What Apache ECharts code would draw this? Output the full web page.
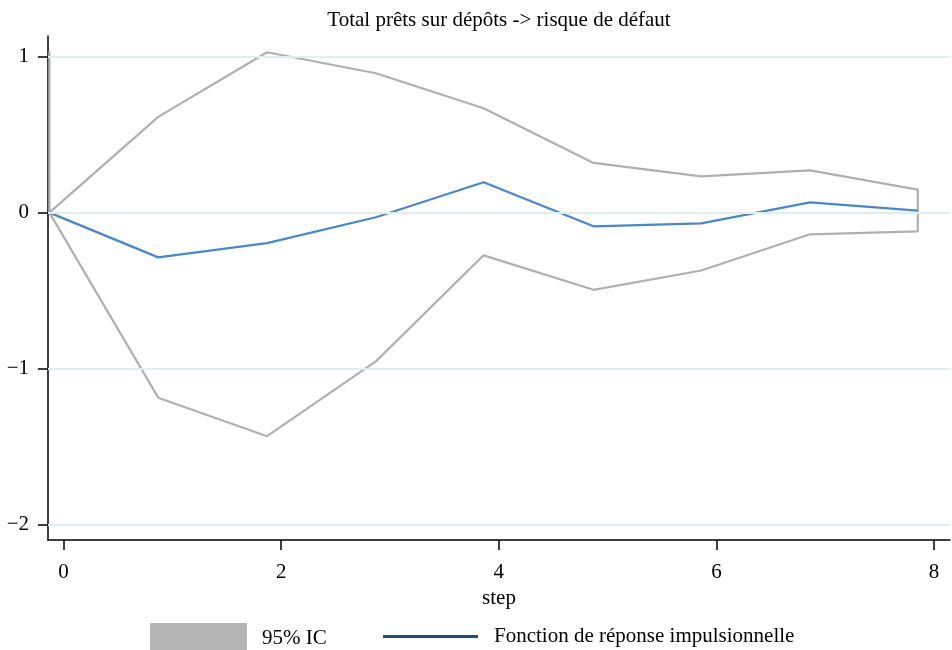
<!DOCTYPE html>
<html><head><meta charset="utf-8">
<script src="https://cdn.jsdelivr.net/npm/echarts@6/dist/echarts.min.js"></script>
<style>html,body{margin:0;padding:0;background:#fff}#c{width:952px;height:650px}</style>
</head><body><div id="c"></div>
<script>
const steps = [-0.13, 0.87, 1.87, 2.87, 3.86, 4.87, 5.86, 6.86, 7.85];
const irf = [0, -0.287, -0.196, -0.030, 0.195, -0.088, -0.069, 0.066, 0.013];
const upperCI = [0, 0.614, 1.029, 0.894, 0.670, 0.319, 0.233, 0.271, 0.148];
const lowerCI = [0, -1.187, -1.434, -0.954, -0.274, -0.495, -0.371, -0.139, -0.120];
const startSpike = 1.034;
const xTicks = [0, 2, 4, 6, 8];
const yTicks = [-2, -1, 0, 1];
const titleText = 'Total prêts sur dépôts -> risque de défaut';
const ciName = '95% IC';
const irfName = 'Fonction de réponse impulsionnelle';

const FONT = 'Liberation Serif';
const FS = 21;
const ciPath = [[steps[0], startSpike]];
for (let i = 0; i < steps.length; i++) ciPath.push([steps[i], upperCI[i]]);
for (let i = steps.length - 1; i >= 0; i--) ciPath.push([steps[i], lowerCI[i]]);
const irfData = steps.map((s, i) => [s, irf[i]]);
const fmt = v => String(v).replace('-', '\u2212');

const chart = echarts.init(document.getElementById('c'), null, {renderer: 'canvas'});
chart.setOption({
  animation: false,
  backgroundColor: '#fff',
  title: {
    text: titleText, left: 499, textAlign: 'center', top: 10, padding: 0,
    textStyle: {fontFamily: FONT, fontSize: FS, fontWeight: 'normal', color: '#000'}
  },
  grid: {left: 48, right: 2, top: 36, bottom: 110, containLabel: false},
  xAxis: {
    type: 'value', min: -0.143, max: 8.146,
    name: 'step', nameLocation: 'middle', nameGap: 47,
    nameTextStyle: {fontFamily: FONT, fontSize: FS, color: '#000'},
    axisLine: {show: true, onZero: false, lineStyle: {color: '#000', width: 1.5}},
    axisTick: {show: true, length: 10, customValues: xTicks, lineStyle: {color: '#000', width: 1.5}},
    axisLabel: {customValues: xTicks, margin: 22, fontFamily: FONT, fontSize: FS, color: '#000', formatter: fmt},
    splitLine: {show: false}
  },
  yAxis: {
    type: 'value', min: -2.10, max: 1.133,
    axisLine: {show: true, onZero: false, lineStyle: {color: '#000', width: 1.5}},
    axisTick: {show: true, length: 10, customValues: yTicks, lineStyle: {color: '#000', width: 1.5}},
    axisLabel: {customValues: yTicks, margin: 19, fontFamily: FONT, fontSize: FS, color: '#000', formatter: fmt},
    splitLine: {show: false}
  },
  legend: [{
    data: [{name: ciName, icon: 'rect', itemStyle: {color: '#b5b5b5', borderWidth: 0}}],
    left: 150, top: 623, padding: 0, itemWidth: 97, itemHeight: 30, itemGap: 15,
    textStyle: {fontFamily: FONT, fontSize: FS, color: '#000', padding: [0, 0, 0, 10]}, selectedMode: false
  }, {
    data: [{name: irfName, icon: 'rect', itemStyle: {color: '#1a4f7a', borderWidth: 0}}],
    left: 383, top: 626, padding: 0, itemWidth: 95, itemHeight: 3, itemGap: 16,
    textStyle: {fontFamily: FONT, fontSize: FS, color: '#000', padding: [0, 0, 0, 11]}, selectedMode: false
  }],
  series: [{
    type: 'line', name: 'grid', data: [], z: 1, silent: true,
    markLine: {
      silent: true, symbol: 'none', animation: false, label: {show: false},
      lineStyle: {color: '#e1eeee', width: 2, type: 'solid'},
      data: yTicks.map(v => ({yAxis: v}))
    }
  }, {
    type: 'line', name: ciName, data: ciPath, z: 2, showSymbol: false, symbol: 'none',
    itemStyle: {color: '#b0b0b0'},
    lineStyle: {color: '#b0b0b0', width: 2.2}
  }, {
    type: 'line', name: irfName, data: irfData, z: 3, showSymbol: false, symbol: 'none',
    itemStyle: {color: '#4a86c8'},
    lineStyle: {color: '#4a86c8', width: 2.2}
  }]
});
</script></body></html>
